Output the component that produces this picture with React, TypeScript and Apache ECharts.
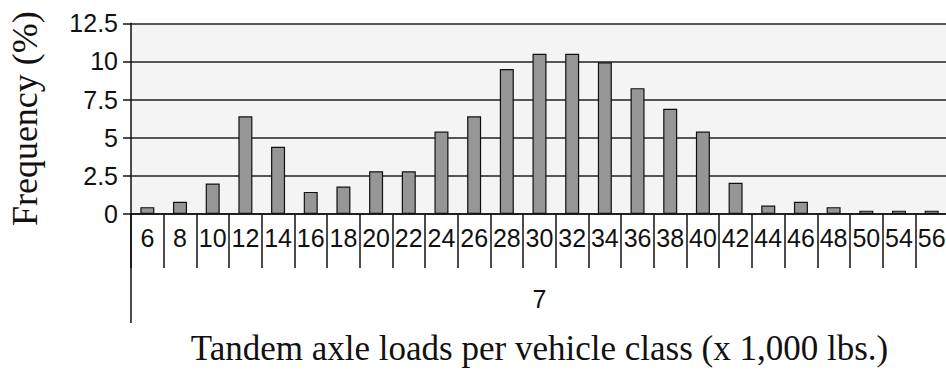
import React, { useEffect, useRef } from "react";
import * as echarts from "echarts";

const categories = ["6","8","10","12","14","16","18","20","22","24","26","28","30","32","34","36","38","40","42","44","46","48","50","54","56"];
const frequency = [0.45,0.8,2.0,6.4,4.4,1.45,1.8,2.8,2.8,5.4,6.4,9.5,10.5,10.5,9.95,8.25,6.9,5.4,2.05,0.55,0.8,0.45,0.22,0.22,0.22];
const groupLabels = ["7"];
const yTitle = "Frequency (%)";
const xTitle = "Tandem axle loads per vehicle class (x 1,000 lbs.)";

export default function App() {
  const ref = useRef<HTMLDivElement>(null);
  useEffect(() => {
    const chart = echarts.init(ref.current!, null, { renderer: "svg" });
    chart.setOption({
      animation: false,
      grid: {
        left: 131,
        top: 23.3,
        right: -2,
        bottom: 158,
        show: true,
        backgroundColor: "#f4f4f4",
        borderWidth: 0,
        containLabel: false,
        outerBoundsMode: "none",
      },
      xAxis: [
        {
          type: "category",
          data: categories,
          position: "bottom",
          axisLine: { show: true, lineStyle: { color: "#111", width: 1.5 } },
          axisTick: { show: true, interval: 0, length: 54, lineStyle: { color: "#111", width: 1.5 } },
          axisLabel: {
            interval: 0,
            margin: 11,
            fontFamily: "'Liberation Sans', Arial",
            fontSize: 25,
            color: "#111",
          },
          name: xTitle,
          nameLocation: "middle",
          nameGap: 117,
          nameTextStyle: { fontFamily: "'Liberation Serif', 'Times New Roman', serif", fontSize: 35, color: "#111" },
        },
        {
          type: "category",
          data: groupLabels,
          position: "bottom",
          axisLine: { show: false },
          axisTick: { show: true, interval: 0, length: 109, lineStyle: { color: "#111", width: 1.5 } },
          axisLabel: {
            interval: 0,
            margin: 72,
            fontFamily: "'Liberation Sans', Arial",
            fontSize: 25,
            color: "#111",
          },
        },
      ],
      yAxis: {
        type: "value",
        min: 0,
        max: 12.5,
        interval: 2.5,
        axisLine: { show: true, lineStyle: { color: "#111", width: 1.5 } },
        axisTick: { show: true, length: 8, lineStyle: { color: "#111", width: 1.5 } },
        splitLine: { show: true, lineStyle: { color: "#222", width: 1.5 } },
        axisLabel: {
          margin: 13,
          fontFamily: "'Liberation Sans', Arial",
          fontSize: 25,
          color: "#111",
        },
        name: yTitle,
        nameLocation: "middle",
        nameRotate: 90,
        nameGap: 88,
        nameTextStyle: { fontFamily: "'Liberation Serif', 'Times New Roman', serif", fontSize: 36, color: "#111" },
      },
      series: [
        {
          type: "bar",
          xAxisIndex: 0,
          data: frequency,
          barWidth: 14,
          itemStyle: { color: "#969696", borderColor: "#111", borderWidth: 1.2 },
        },
      ],
    });
    return () => chart.dispose();
  }, []);
  return (
    <div
      ref={ref}
      style={{ position: "absolute", left: 0, top: 0, width: 946, height: 372, background: "#fff" }}
    />
  );
}
